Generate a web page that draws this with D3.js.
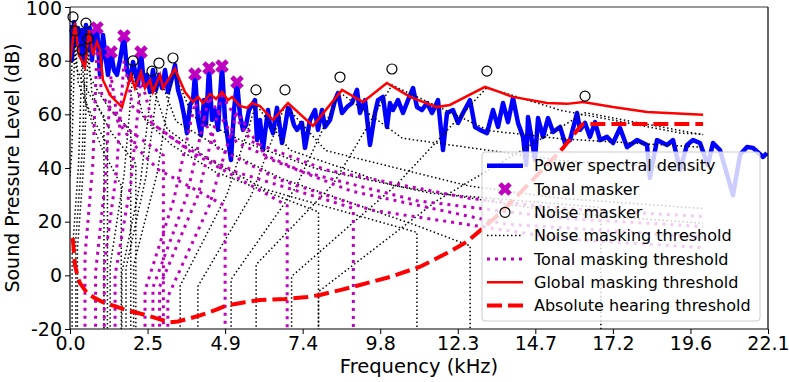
<!DOCTYPE html>
<html>
<head>
<meta charset="utf-8">
<script src="https://cdn.jsdelivr.net/npm/d3@7"></script>
<style>
  body { margin: 0; background: #fff; }
  svg { display: block; font-family: "DejaVu Sans", sans-serif; }
</style>
</head>
<body>
<div id="chart"></div>
<script>
// tick positions (kHz) and their printed labels
const xTicks = [0, 2.45, 4.9, 7.35, 9.8, 12.25, 14.7, 17.15, 19.6, 22.05];
const xTickLabels = ['0.0', '2.5', '4.9', '7.4', '9.8', '12.3', '14.7', '17.2', '19.6', '22.1'];
const yTicks = [-20, 0, 20, 40, 60, 80, 100];

// power spectral density [kHz, dB]
const psd = [[0.000,93.3],[0.063,80.2],[0.126,94.4],[0.190,85.8],[0.253,92.2],[0.316,82.1],[0.379,91.4],[0.442,78.4],[0.505,93.3],[0.569,84.0],[0.632,92.2],[0.695,80.2],[0.758,89.6],[0.853,92.2],[0.948,74.7],[1.042,89.6],[1.137,80.2],[1.200,74.7],[1.295,83.2],[1.390,76.5],[1.485,74.7],[1.580,80.2],[1.706,89.2],[1.801,76.5],[1.895,72.8],[1.990,79.5],[2.085,74.7],[2.148,70.9],[2.243,83.2],[2.338,70.9],[2.432,74.7],[2.527,68.3],[2.622,76.5],[2.717,69.1],[2.811,74.7],[2.906,69.8],[3.001,76.5],[3.096,68.3],[3.222,73.5],[3.317,78.4],[3.412,69.1],[3.507,65.3],[3.601,59.8],[3.696,53.0],[3.791,63.5],[3.886,65.3],[3.949,75.0],[4.044,57.9],[4.138,52.3],[4.233,65.3],[4.296,56.0],[4.391,77.3],[4.486,57.9],[4.581,61.6],[4.675,54.2],[4.802,78.0],[4.897,57.9],[4.991,50.4],[5.086,43.0],[5.181,61.6],[5.276,72.0],[5.370,59.8],[5.465,54.2],[5.560,56.0],[5.655,61.6],[5.750,63.5],[5.844,65.3],[5.907,50.4],[6.002,57.9],[6.097,46.7],[6.160,53.0],[6.255,61.6],[6.318,56.0],[6.413,53.0],[6.539,62.4],[6.634,54.9],[6.697,49.3],[6.792,55.3],[6.887,62.4],[6.950,61.6],[7.076,56.0],[7.171,54.2],[7.329,56.8],[7.424,47.5],[7.582,57.9],[7.740,61.6],[7.835,54.2],[7.961,61.6],[8.056,55.3],[8.214,57.9],[8.371,65.3],[8.466,67.9],[8.593,60.5],[8.751,62.7],[8.909,64.2],[9.067,69.1],[9.161,60.5],[9.319,65.3],[9.477,48.6],[9.635,60.5],[9.730,65.3],[9.888,66.5],[10.014,55.3],[10.109,64.2],[10.204,61.6],[10.362,65.3],[10.520,60.5],[10.678,65.3],[10.836,69.8],[10.962,62.7],[11.120,61.6],[11.278,64.2],[11.436,60.5],[11.625,65.3],[11.783,46.7],[11.910,60.5],[12.099,61.6],[12.257,56.8],[12.415,60.5],[12.636,65.3],[12.794,55.3],[12.952,54.2],[13.173,53.0],[13.363,61.6],[13.521,55.3],[13.679,64.2],[13.837,57.1],[13.995,66.1],[14.153,56.8],[14.311,51.6],[14.41,41.1],[14.469,59.0],[14.627,47.8],[14.69,43.0],[14.785,58.6],[14.943,51.6],[15.101,58.6],[15.259,53.4],[15.480,55.3],[15.638,49.3],[15.796,50.4],[16.017,60.5],[16.112,54.2],[16.269,56.8],[16.427,51.6],[16.585,57.1],[16.743,50.4],[16.964,51.6],[17.154,49.3],[17.375,54.9],[17.596,47.8],[17.912,50.4],[18.228,48.6],[18.32,36.3],[18.544,50.4],[18.860,48.6],[19.049,50.4],[19.27,39.3],[19.492,48.6],[19.681,50.4],[19.902,49.3],[20.15,41.1],[20.313,49.3],[20.534,46.7],[20.944,29.9],[21.17,45.0],[21.387,47.8],[21.577,47.5],[21.893,44.1],[22.019,45.6]];

const tonalMaskers = [[0.853,92.2],[1.295,83.2],[1.706,89.2],[2.243,83.2],[3.949,75.0],[4.391,77.3],[4.802,78.0],[5.276,72.0]];
const noiseMaskers = [[0.095,96.3],[0.505,94.0],[0.158,91.1],[0.569,88.1],[0.379,84.0],[1.990,79.9],[2.590,76.1],[2.811,79.1],[3.254,81.0],[5.876,69.1],[6.792,69.1],[8.529,73.9],[10.17,76.9],[13.17,76.1],[16.27,66.8]];

// one masking curve per noise masker
const noiseThresholds = [
  [[0,52.3],[0.095,94.1],[0.197,77.1],[0.408,72.0],[0.643,66.9],[1.073,59.3],[1.073,-40]],
  [[0,36.9],[0.057,46.4],[0.158,88.8],[0.261,71.8],[0.477,65.1],[0.724,58.5],[1.183,48.5],[1.183,-40]],
  [[0.067,-40],[0.067,7.7],[0.272,41.7],[0.379,81.3],[0.489,64.3],[0.737,55.5],[1.029,46.7],[1.62,33.5],[1.62,-40]],
  [[0.183,-40],[0.183,13.5],[0.393,47.5],[0.505,91.1],[0.626,74.1],[0.896,68.3],[1.226,62.5],[1.92,53.8],[1.92,-40]],
  [[0.235,-40],[0.235,9.9],[0.45,43.9],[0.569,85.1],[0.69,68.1],[0.974,60.5],[1.325,52.9],[2.08,41.5],[2.08,-40]],
  [[1.268,-40],[1.268,3.6],[1.71,37.6],[1.99,75.6],[2.32,58.6],[3.21,48.6],[4.58,38.6],[7.85,23.6],[7.85,-40]],
  [[1.64,-40],[1.64,1.1],[2.23,35.1],[2.59,71.5],[3.07,54.5],[4.37,43.3],[6.16,32.1],[10.96,16.0],[10.96,-40]],
  [[1.77,-40],[1.77,2.8],[2.40,36.8],[2.811,74.4],[3.35,57.4],[4.78,47.2],[6.70,36.0],[10.96,18.5],[12.64,11.0],[12.64,-40]],
  [[2.01,-40],[2.01,3.8],[2.75,37.8],[3.254,76.2],[3.89,59.2],[5.54,49.5],[7.76,39.8],[11.4,30.6],[16.77,25.3],[16.77,-40]],
  [[3.48,-40],[3.48,-3.9],[4.96,30.1],[5.876,63.7],[6.94,46.7],[10.2,33.5],[15.5,23.3],[20.0,19.4]],
  [[4.04,-40],[4.04,-4.1],[5.73,29.9],[6.792,63.5],[8.08,46.5],[12.6,33.3],[15.5,28.7],[20.0,24.9]],
  [[5.09,-40],[5.09,-1.5],[7.12,32.5],[8.529,68.1],[10.5,51.1],[15.5,42.8],[20.0,39.4]],
  [[5.88,-40],[5.88,4.0],[8.32,34.1],[10.17,70.9],[13.25,53.9],[15.5,50.9],[20.0,47.7]],
  [[7.0,-40],[7.0,-0.4],[10.3,33.6],[13.17,70.0],[15.5,61.5],[19.3,53.0],[20.0,52.6]],
  [[7.85,-40],[7.85,-6.1],[11.6,27.9],[16.27,60.6],[20.0,52.4]]
];

// one masking curve per tonal masker
const tonalThresholds = [
  [[0.473,-40],[0.473,7.2],[0.719,41.2],[0.853,84.1],[1.007,67.1],[1.368,60.7],[1.846,54.3],[2.95,44.7],[2.95,-40]],
  [[0.808,-40],[0.808,1.1],[1.115,35.1],[1.295,74.4],[1.51,57.4],[2.04,48.4],[2.79,39.4],[4.9,25.9],[4.9,-40]],
  [[1.083,-40],[1.083,4.2],[1.466,38.2],[1.706,79.9],[1.98,62.9],[2.70,55.7],[3.82,46.0],[6.86,26.0],[6.86,-40]],
  [[1.425,-40],[1.425,0.1],[1.92,34.1],[2.243,73.4],[2.62,56.4],[3.69,47.4],[5.27,38.4],[8.95,25.0],[8.95,-40]],
  [[2.37,-40],[2.37,-5.7],[3.28,28.3],[3.949,64.3],[4.68,47.3],[6.58,35.8],[9.53,24.3],[15.5,13.7],[20.0,10.3]],
  [[2.62,-40],[2.62,-4.5],[3.69,29.5],[4.391,66.4],[5.27,49.4],[7.36,38.6],[10.96,27.8],[15.5,21.3],[20.0,18.2]],
  [[2.83,-40],[2.83,-4.3],[4.04,29.7],[4.802,66.9],[5.73,49.9],[8.08,39.3],[12.6,28.7],[15.5,25.0],[20.0,21.9]],
  [[3.09,-40],[3.09,-8.0],[4.40,26.0],[5.276,60.8],[6.21,43.8],[8.88,31.4],[13.8,19.0],[15.5,17.8],[20.0,14.2]]
];

const globalThreshold = [[0,79.5],[0.158,94.0],[0.284,82.1],[0.474,77.6],[0.60,91.4],[0.727,82.1],[0.853,87.0],[0.948,84.0],[1.04,72.8],[1.264,67.2],[1.643,62.7],[1.927,74.7],[2.053,69.8],[2.243,75.8],[2.369,69.8],[2.527,72.8],[2.622,68.3],[2.843,74.7],[2.938,69.8],[3.317,76.9],[3.633,68.3],[3.886,64.6],[4.044,66.5],[4.202,64.2],[4.423,67.6],[4.612,65.7],[4.802,68.3],[4.991,65.3],[5.118,66.5],[5.37,63.1],[5.59,62.4],[5.75,64.2],[6.0,63.1],[6.41,57.9],[6.887,64.2],[7.677,55.7],[8.593,69.1],[9.256,64.6],[10.01,71.7],[10.74,66.5],[11.59,62.7],[12.0,63.5],[13.11,70.2],[13.58,68.3],[13.99,66.5],[15.07,64.2],[15.70,63.9],[16.21,64.6],[17.15,62.7],[18.23,60.9],[20.0,59.8]];

const absThreshold = [[0.086,13.9],[0.158,3.8],[0.253,-1.0],[0.316,-2.9],[0.537,-6.6],[0.79,-8.5],[1.04,-10.0],[1.42,-11.5],[1.80,-13.0],[2.43,-14.9],[2.84,-16.4],[3.16,-17.5],[3.41,-17.2],[3.79,-16.0],[4.11,-14.9],[4.58,-13.0],[4.96,-11.2],[5.53,-10.0],[6.00,-9.2],[6.79,-8.8],[7.49,-8.1],[7.90,-7.3],[8.53,-5.5],[9.16,-3.6],[10.11,-0.6],[11.06,3.2],[11.91,8.3],[12.54,12.5],[13.05,17.6],[13.59,23.2],[14.22,30.7],[14.85,38.5],[15.57,47.4],[16.11,55.3],[16.21,56.4],[20.0,56.4]];

const W = 789, H = 382;
const margin = { top: 7, right: 21, bottom: 53, left: 70 };
const width = W - margin.left - margin.right;
const height = H - margin.top - margin.bottom;

const svg = d3.select('#chart').append('svg')
    .attr('width', W)
    .attr('height', H);

const g = svg.append('g')
    .attr('transform', `translate(${margin.left},${margin.top})`);

const x = d3.scaleLinear().domain([0, 22.05]).range([0, width]);
const y = d3.scaleLinear().domain([-20, 100]).range([height, 0]);

g.append('clipPath').attr('id', 'clip')
    .append('rect').attr('width', width).attr('height', height);

const plot = g.append('g').attr('clip-path', 'url(#clip)');

const line = d3.line().x((d) => x(d[0])).y((d) => y(d[1]));

// PSD
plot.append('path')
    .datum(psd)
    .attr('fill', 'none')
    .attr('stroke', '#0000ff')
    .attr('stroke-width', 4.5)
    .attr('stroke-linejoin', 'round')
    .attr('d', line);

// noise masking thresholds
plot.selectAll('.nmt')
    .data(noiseThresholds)
    .enter().append('path')
    .attr('class', 'nmt')
    .attr('fill', 'none')
    .attr('stroke', '#000')
    .attr('stroke-width', 1.5)
    .attr('stroke-dasharray', '1.5,2.5')
    .attr('d', line);

// tonal masking thresholds
plot.selectAll('.tmt')
    .data(tonalThresholds)
    .enter().append('path')
    .attr('class', 'tmt')
    .attr('fill', 'none')
    .attr('stroke', '#bf00bf')
    .attr('stroke-width', 3)
    .attr('stroke-dasharray', '3,5')
    .attr('d', line);

// global masking threshold
plot.append('path')
    .datum(globalThreshold)
    .attr('fill', 'none')
    .attr('stroke', '#ff0000')
    .attr('stroke-width', 2.5)
    .attr('d', line);

// absolute hearing threshold
plot.append('path')
    .datum(absThreshold)
    .attr('fill', 'none')
    .attr('stroke', '#ff0000')
    .attr('stroke-width', 4)
    .attr('stroke-dasharray', '15,6')
    .attr('d', line);

// maskers
const xMark = d3.symbol(d3.symbolCross, 115);
g.selectAll('.tm')
    .data(tonalMaskers)
    .enter().append('path')
    .attr('class', 'tm')
    .attr('d', xMark)
    .attr('fill', '#bf00bf')
    .attr('transform', (d) => `translate(${x(d[0])},${y(d[1])}) rotate(45)`);

g.selectAll('.nm')
    .data(noiseMaskers)
    .enter().append('circle')
    .attr('class', 'nm')
    .attr('cx', (d) => x(d[0]))
    .attr('cy', (d) => y(d[1]))
    .attr('r', 5)
    .attr('fill', 'none')
    .attr('stroke', '#000')
    .attr('stroke-width', 1.2);

// axes
const xAxis = d3.axisBottom(x).tickValues(xTicks)
    .tickFormat((d, i) => xTickLabels[i]).tickSize(5).tickPadding(3);
const yAxis = d3.axisLeft(y).tickValues(yTicks)
    .tickFormat((d) => String(d)).tickSize(5).tickPadding(3);

const gx = g.append('g').attr('transform', `translate(0,${height})`).call(xAxis);
const gy = g.append('g').call(yAxis);
[gx, gy].forEach((a) => {
    a.select('.domain').remove();
    a.selectAll('text').attr('font-size', 19).attr('font-family', '"DejaVu Sans", sans-serif').attr('fill', '#000');
    a.selectAll('line').attr('stroke', '#000').attr('stroke-width', 1);
});
// keep the top label inside the picture
gy.selectAll('text').filter((d) => d === 100).attr('dy', '0.4em');

// spines
g.append('line').attr('x1', 0).attr('x2', width).attr('y1', 0).attr('y2', 0)
    .attr('stroke', '#777').attr('stroke-width', 1.5);
g.append('line').attr('x1', 0).attr('x2', width).attr('y1', height).attr('y2', height)
    .attr('stroke', '#000').attr('stroke-width', 1.2);
g.append('line').attr('x1', 0).attr('x2', 0).attr('y1', 0).attr('y2', height)
    .attr('stroke', '#000').attr('stroke-width', 1.2);
g.append('line').attr('x1', width).attr('x2', width).attr('y1', 0).attr('y2', height)
    .attr('stroke', '#000').attr('stroke-width', 1.2);

// axis titles
svg.append('text')
    .attr('x', margin.left + width / 2)
    .attr('y', 373)
    .attr('text-anchor', 'middle')
    .attr('font-size', 19.5)
    .text('Frequency (kHz)');

svg.append('text')
    .attr('transform', `translate(19,${margin.top + height / 2}) rotate(-90)`)
    .attr('text-anchor', 'middle')
    .attr('font-size', 19)
    .text('Sound Pressure Level (dB)');

// legend
const legendItems = [
    { label: 'Power spectral density', type: 'psd' },
    { label: 'Tonal masker', type: 'tm' },
    { label: 'Noise masker', type: 'nm' },
    { label: 'Noise masking threshold', type: 'nmt' },
    { label: 'Tonal masking threshold', type: 'tmt' },
    { label: 'Global masking threshold', type: 'gmt' },
    { label: 'Absolute hearing threshold', type: 'ath' }
];

const legend = svg.append('g').attr('transform', 'translate(482,152)');
legend.append('rect')
    .attr('width', 278).attr('height', 169)
    .attr('rx', 3)
    .attr('fill', '#fff').attr('fill-opacity', 0.8)
    .attr('stroke', '#ccc').attr('stroke-width', 1);

legendItems.forEach((item, i) => {
    const ly = 13.7 + i * 23.3;
    const row = legend.append('g').attr('transform', `translate(0,${ly})`);
    if (item.type === 'tm') {
        row.append('path').attr('d', xMark).attr('fill', '#bf00bf')
            .attr('transform', 'translate(23,0) rotate(45)');
    } else if (item.type === 'nm') {
        row.append('circle').attr('cx', 23).attr('cy', 0).attr('r', 5)
            .attr('fill', 'none').attr('stroke', '#000').attr('stroke-width', 1.2);
    } else {
        const ln = row.append('line').attr('x1', 5).attr('x2', 41).attr('y1', 0).attr('y2', 0);
        if (item.type === 'psd') ln.attr('stroke', '#0000ff').attr('stroke-width', 4.5);
        if (item.type === 'nmt') ln.attr('stroke', '#000').attr('stroke-width', 1.5).attr('stroke-dasharray', '1.5,2.5');
        if (item.type === 'tmt') ln.attr('stroke', '#bf00bf').attr('stroke-width', 3).attr('stroke-dasharray', '3,5');
        if (item.type === 'gmt') ln.attr('stroke', '#ff0000').attr('stroke-width', 2.5);
        if (item.type === 'ath') ln.attr('stroke', '#ff0000').attr('stroke-width', 4).attr('stroke-dasharray', '15,6');
    }
    row.append('text')
        .attr('x', 52)
        .attr('y', 0)
        .attr('dy', '0.36em')
        .attr('font-size', 16)
        .text(item.label);
});
</script>
</body>
</html>
